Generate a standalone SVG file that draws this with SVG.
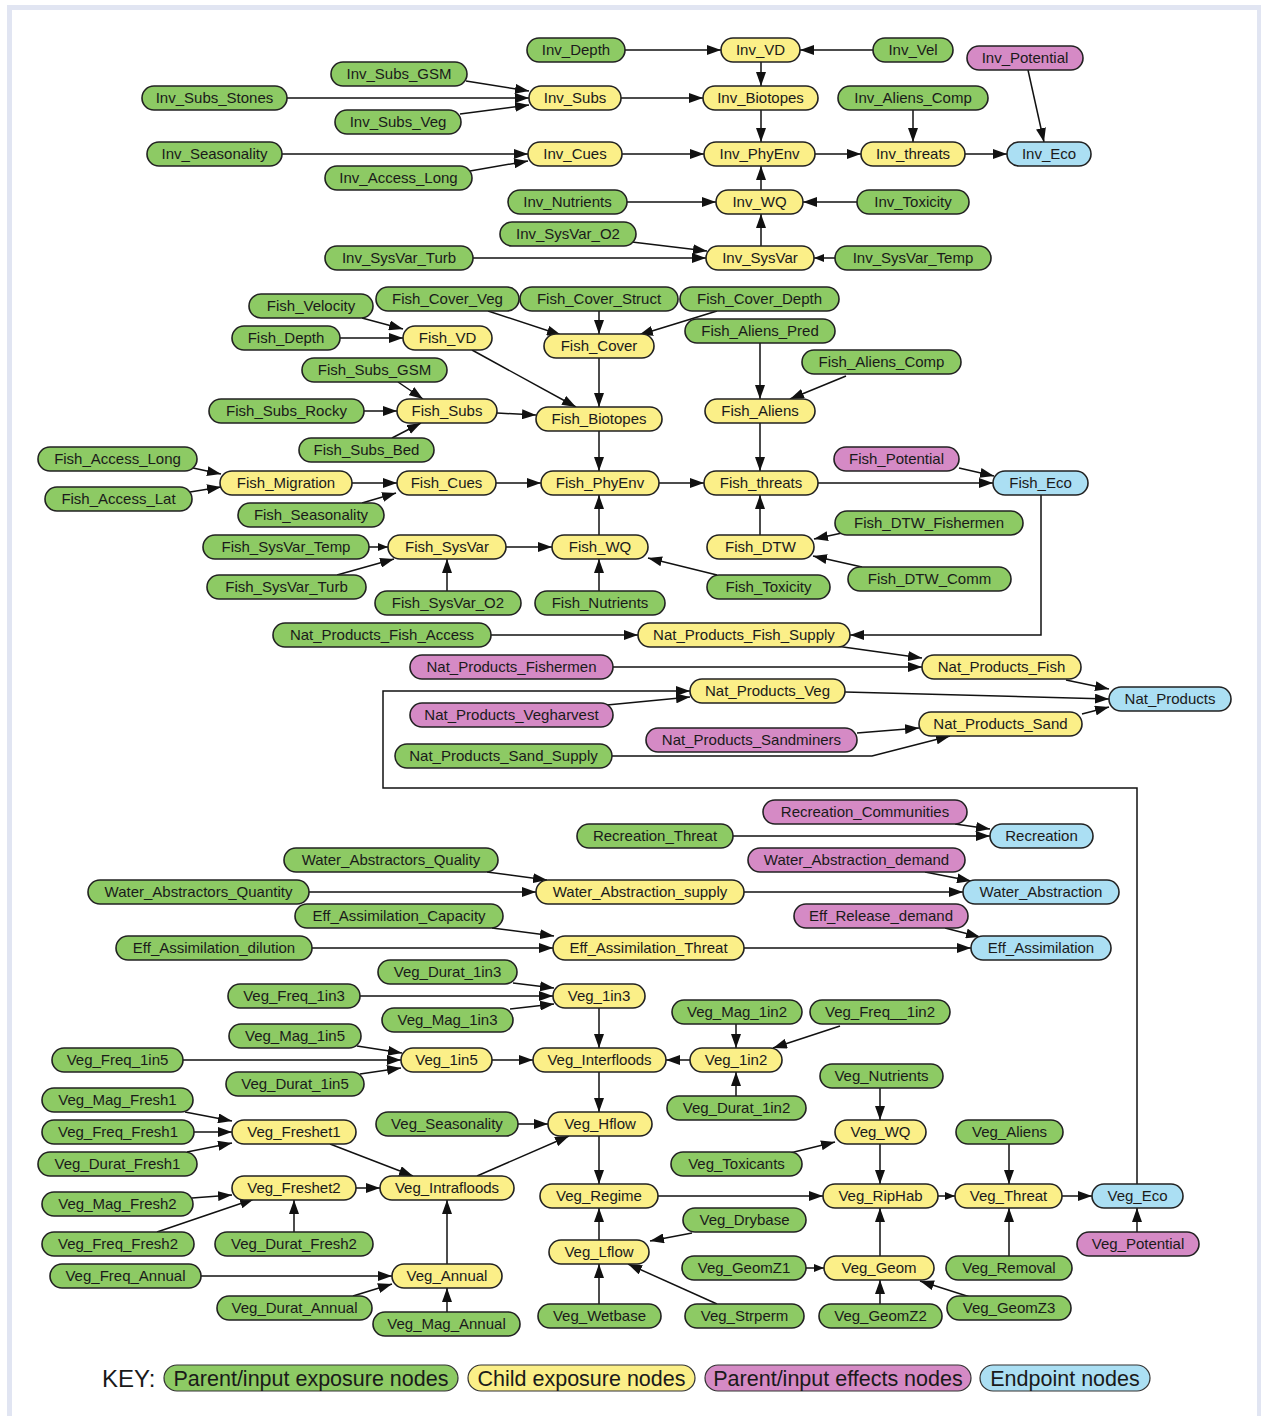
<svg xmlns="http://www.w3.org/2000/svg" width="1261" height="1416" viewBox="0 0 1261 1416">
<style>
.n rect{stroke:#222;stroke-width:1.6}
.g{fill:#8dca64}.y{fill:#fbef88}.p{fill:#d58ac5}.b{fill:#abdff3}
text{font-family:"Liberation Sans",Arial,sans-serif;font-size:15px;fill:#1a1a1a;text-anchor:middle}
.e line,.e polyline{stroke:#111;stroke-width:1.5;fill:none;marker-end:url(#a)}
.e .s{marker-end:url(#s)}
.k rect{stroke:#333;stroke-width:1.2}
.k text{font-size:21.5px}
</style>
<defs>
<marker id="a" viewBox="0 0 14 10" refX="14" refY="5" markerWidth="14" markerHeight="10" markerUnits="userSpaceOnUse" orient="auto"><path d="M0,0L14,5L0,10z" fill="#111"/></marker>
<marker id="s" viewBox="0 0 10 8" refX="10" refY="4" markerWidth="10" markerHeight="8" markerUnits="userSpaceOnUse" orient="auto"><path d="M0,0L10,4L0,8z" fill="#111"/></marker>
</defs>
<rect width="1261" height="1416" fill="#fff"/>
<rect x="9.5" y="7.5" width="1250" height="1430" fill="#fff" stroke="#e1e5f2" stroke-width="5"/>

<g class="e" id="connectors">
<line x1="625" y1="50" x2="721" y2="50"/>
<line x1="873" y1="50" x2="800" y2="50"/>
<line x1="761" y1="62" x2="761" y2="86"/>
<line x1="466" y1="81" x2="529" y2="91"/>
<line x1="287" y1="98" x2="529" y2="98"/>
<line x1="460" y1="114" x2="529" y2="105"/>
<line x1="621" y1="98" x2="703" y2="98"/>
<line x1="761" y1="110" x2="761" y2="142"/>
<line x1="913" y1="110" x2="913" y2="142"/>
<line x1="282" y1="154" x2="528" y2="154"/>
<line x1="470" y1="171" x2="528" y2="161"/>
<line x1="622" y1="154" x2="704" y2="154"/>
<line x1="815" y1="154" x2="861" y2="154"/>
<line x1="965" y1="154" x2="1007" y2="154"/>
<line x1="1028" y1="70" x2="1044" y2="142"/>
<line x1="627" y1="202" x2="716" y2="202"/>
<line x1="857" y1="202" x2="803" y2="202"/>
<line x1="761" y1="190" x2="761" y2="166"/>
<line x1="761" y1="246" x2="761" y2="214"/>
<line x1="632" y1="242" x2="707" y2="251"/>
<line x1="473" y1="258" x2="706" y2="258"/>
<line class="s" x1="835" y1="258" x2="814" y2="258"/>

<line x1="362" y1="318" x2="403" y2="329"/>
<line x1="340" y1="338" x2="403" y2="338"/>
<line x1="488" y1="311" x2="561" y2="335"/>
<line x1="599" y1="311" x2="599" y2="334"/>
<line x1="717" y1="311" x2="639" y2="335"/>
<line x1="472" y1="350" x2="576" y2="407"/>
<line x1="599" y1="358" x2="599" y2="407"/>
<line x1="760" y1="343" x2="760" y2="399"/>
<line x1="846" y1="376" x2="790" y2="399"/>
<line x1="398" y1="382" x2="423" y2="399"/>
<line x1="364" y1="411" x2="397" y2="411"/>
<line x1="392" y1="438" x2="421" y2="423"/>
<line x1="497" y1="413" x2="536" y2="415"/>
<line x1="599" y1="431" x2="599" y2="471"/>
<line x1="760" y1="423" x2="760" y2="471"/>
<line x1="193" y1="468" x2="221" y2="474"/>
<line x1="190" y1="492" x2="221" y2="487"/>
<line x1="352" y1="483" x2="397" y2="483"/>
<line x1="362" y1="503" x2="396" y2="493"/>
<line x1="496" y1="483" x2="541" y2="483"/>
<line x1="659" y1="483" x2="704" y2="483"/>
<line x1="818" y1="483" x2="993" y2="483"/>
<line x1="959" y1="468" x2="994" y2="476"/>
<line x1="760" y1="535" x2="760" y2="495"/>
<line x1="842" y1="533" x2="814" y2="539"/>
<line x1="862" y1="567" x2="813" y2="556"/>
<line class="s" x1="369" y1="547" x2="388" y2="547"/>
<line x1="337" y1="575" x2="394" y2="559"/>
<line x1="447" y1="591" x2="447" y2="559"/>
<line x1="506" y1="547" x2="552" y2="547"/>
<line x1="599" y1="535" x2="599" y2="495"/>
<line x1="599" y1="591" x2="599" y2="559"/>
<line x1="717" y1="575" x2="648" y2="558"/>

<line x1="491" y1="635" x2="638" y2="635"/>
<polyline points="1041,495 1041,635 850,635"/>
<line x1="836" y1="646" x2="922" y2="658"/>
<line x1="613" y1="667" x2="922" y2="667"/>
<line x1="1066" y1="680" x2="1109" y2="689"/>
<line x1="845" y1="692" x2="1109" y2="699"/>
<line x1="607" y1="705" x2="690" y2="697"/>
<polyline points="1137,1184 1137,788 383,788 383,691 690,691"/>
<line x1="857" y1="733" x2="919" y2="728"/>
<polyline points="612,756 872,756 950,736"/>
<line x1="1082" y1="714" x2="1109" y2="707"/>

<line x1="955" y1="824" x2="990" y2="829"/>
<line x1="733" y1="836" x2="990" y2="836"/>
<line x1="487" y1="872" x2="547" y2="880"/>
<line x1="309" y1="892" x2="536" y2="892"/>
<line x1="744" y1="892" x2="963" y2="892"/>
<line x1="925" y1="872" x2="971" y2="881"/>
<line x1="492" y1="928" x2="554" y2="936"/>
<line x1="312" y1="948" x2="553" y2="948"/>
<line x1="744" y1="948" x2="971" y2="948"/>
<line x1="945" y1="928" x2="980" y2="937"/>

<line x1="513" y1="983" x2="554" y2="988"/>
<line x1="360" y1="996" x2="553" y2="996"/>
<line x1="510" y1="1009" x2="554" y2="1004"/>
<line x1="599" y1="1008" x2="599" y2="1048"/>
<line x1="736" y1="1024" x2="736" y2="1048"/>
<line x1="840" y1="1026" x2="773" y2="1048"/>
<line x1="690" y1="1060" x2="666" y2="1060"/>
<line x1="736" y1="1096" x2="736" y2="1072"/>
<line x1="357" y1="1046" x2="402" y2="1053"/>
<line x1="183" y1="1060" x2="401" y2="1060"/>
<line x1="360" y1="1074" x2="401" y2="1068"/>
<line x1="492" y1="1060" x2="533" y2="1060"/>
<line x1="599" y1="1072" x2="599" y2="1112"/>
<line x1="185" y1="1112" x2="232" y2="1121"/>
<line x1="194" y1="1132" x2="232" y2="1132"/>
<line x1="187" y1="1152" x2="232" y2="1143"/>
<line x1="330" y1="1144" x2="413" y2="1176"/>
<line x1="192" y1="1198" x2="232" y2="1195"/>
<line x1="157" y1="1232" x2="254" y2="1199"/>
<line x1="294" y1="1232" x2="294" y2="1200"/>
<line x1="356" y1="1188" x2="380" y2="1188"/>
<line x1="477" y1="1176" x2="569" y2="1136"/>
<line x1="518" y1="1124" x2="548" y2="1124"/>
<line x1="599" y1="1136" x2="599" y2="1184"/>
<line x1="447" y1="1264" x2="447" y2="1200"/>
<line x1="201" y1="1276" x2="392" y2="1276"/>
<line x1="353" y1="1296" x2="392" y2="1284"/>
<line x1="447" y1="1312" x2="447" y2="1288"/>
<line x1="599" y1="1240" x2="599" y2="1208"/>
<line x1="599" y1="1304" x2="599" y2="1264"/>
<line x1="692" y1="1233" x2="650" y2="1241"/>
<line x1="717" y1="1304" x2="628" y2="1264"/>
<line x1="658" y1="1196" x2="823" y2="1196"/>
<line x1="880" y1="1088" x2="880" y2="1120"/>
<line x1="790" y1="1153" x2="835" y2="1142"/>
<line x1="880" y1="1144" x2="880" y2="1184"/>
<line x1="880" y1="1256" x2="880" y2="1208"/>
<line class="s" x1="806" y1="1268" x2="824" y2="1268"/>
<line x1="880" y1="1304" x2="880" y2="1280"/>
<line x1="970" y1="1297" x2="920" y2="1281"/>
<line class="s" x1="938" y1="1196" x2="955" y2="1196"/>
<line x1="1009" y1="1144" x2="1009" y2="1184"/>
<line x1="1009" y1="1256" x2="1009" y2="1208"/>
<line x1="1062" y1="1196" x2="1092" y2="1196"/>
<line x1="1137" y1="1232" x2="1137" y2="1208"/>
</g>

<g class="n">
<g id="Inv_Depth"><rect class="g" x="527" y="38" width="98" height="24" rx="12"/><text x="576" y="55">Inv_Depth</text></g>
<g id="Inv_VD"><rect class="y" x="721" y="38" width="79" height="24" rx="12"/><text x="760.5" y="55">Inv_VD</text></g>
<g id="Inv_Vel"><rect class="g" x="873" y="38" width="80" height="24" rx="12"/><text x="913" y="55">Inv_Vel</text></g>
<g id="Inv_Potential"><rect class="p" x="967" y="46" width="116" height="24" rx="12"/><text x="1025" y="63">Inv_Potential</text></g>
<g id="Inv_Subs_GSM"><rect class="g" x="331" y="62" width="136" height="24" rx="12"/><text x="399" y="79">Inv_Subs_GSM</text></g>
<g id="Inv_Subs_Stones"><rect class="g" x="142" y="86" width="145" height="24" rx="12"/><text x="214.5" y="103">Inv_Subs_Stones</text></g>
<g id="Inv_Subs_Veg"><rect class="g" x="335" y="110" width="126" height="24" rx="12"/><text x="398" y="127">Inv_Subs_Veg</text></g>
<g id="Inv_Subs"><rect class="y" x="529" y="86" width="92" height="24" rx="12"/><text x="575" y="103">Inv_Subs</text></g>
<g id="Inv_Biotopes"><rect class="y" x="703" y="86" width="115" height="24" rx="12"/><text x="760.5" y="103">Inv_Biotopes</text></g>
<g id="Inv_Aliens_Comp"><rect class="g" x="838" y="86" width="150" height="24" rx="12"/><text x="913" y="103">Inv_Aliens_Comp</text></g>
<g id="Inv_Seasonality"><rect class="g" x="147" y="142" width="135" height="24" rx="12"/><text x="214.5" y="159">Inv_Seasonality</text></g>
<g id="Inv_Access_Long"><rect class="g" x="325" y="166" width="147" height="24" rx="12"/><text x="398.5" y="183">Inv_Access_Long</text></g>
<g id="Inv_Cues"><rect class="y" x="528" y="142" width="94" height="24" rx="12"/><text x="575" y="159">Inv_Cues</text></g>
<g id="Inv_PhyEnv"><rect class="y" x="704" y="142" width="111" height="24" rx="12"/><text x="759.5" y="159">Inv_PhyEnv</text></g>
<g id="Inv_threats"><rect class="y" x="861" y="142" width="104" height="24" rx="12"/><text x="913" y="159">Inv_threats</text></g>
<g id="Inv_Eco"><rect class="b" x="1007" y="142" width="84" height="24" rx="12"/><text x="1049" y="159">Inv_Eco</text></g>
<g id="Inv_Nutrients"><rect class="g" x="508" y="190" width="119" height="24" rx="12"/><text x="567.5" y="207">Inv_Nutrients</text></g>
<g id="Inv_WQ"><rect class="y" x="716" y="190" width="87" height="24" rx="12"/><text x="759.5" y="207">Inv_WQ</text></g>
<g id="Inv_Toxicity"><rect class="g" x="857" y="190" width="112" height="24" rx="12"/><text x="913" y="207">Inv_Toxicity</text></g>
<g id="Inv_SysVar_O2"><rect class="g" x="500" y="222" width="136" height="24" rx="12"/><text x="568" y="239">Inv_SysVar_O2</text></g>
<g id="Inv_SysVar_Turb"><rect class="g" x="325" y="246" width="148" height="24" rx="12"/><text x="399" y="263">Inv_SysVar_Turb</text></g>
<g id="Inv_SysVar"><rect class="y" x="706" y="246" width="108" height="24" rx="12"/><text x="760" y="263">Inv_SysVar</text></g>
<g id="Inv_SysVar_Temp"><rect class="g" x="835" y="246" width="156" height="24" rx="12"/><text x="913" y="263">Inv_SysVar_Temp</text></g>

<g id="Fish_Cover_Veg"><rect class="g" x="376" y="287" width="143" height="24" rx="12"/><text x="447.5" y="304">Fish_Cover_Veg</text></g>
<g id="Fish_Cover_Struct"><rect class="g" x="520" y="287" width="158" height="24" rx="12"/><text x="599" y="304">Fish_Cover_Struct</text></g>
<g id="Fish_Cover_Depth"><rect class="g" x="680" y="287" width="159" height="24" rx="12"/><text x="759.5" y="304">Fish_Cover_Depth</text></g>
<g id="Fish_Velocity"><rect class="g" x="249" y="294" width="124" height="24" rx="12"/><text x="311" y="311">Fish_Velocity</text></g>
<g id="Fish_Depth"><rect class="g" x="232" y="326" width="108" height="24" rx="12"/><text x="286" y="343">Fish_Depth</text></g>
<g id="Fish_VD"><rect class="y" x="403" y="326" width="89" height="24" rx="12"/><text x="447.5" y="343">Fish_VD</text></g>
<g id="Fish_Cover"><rect class="y" x="544" y="334" width="110" height="24" rx="12"/><text x="599" y="351">Fish_Cover</text></g>
<g id="Fish_Aliens_Pred"><rect class="g" x="685" y="319" width="150" height="24" rx="12"/><text x="760" y="336">Fish_Aliens_Pred</text></g>
<g id="Fish_Aliens_Comp"><rect class="g" x="802" y="350" width="159" height="24" rx="12"/><text x="881.5" y="367">Fish_Aliens_Comp</text></g>
<g id="Fish_Subs_GSM"><rect class="g" x="302" y="358" width="145" height="24" rx="12"/><text x="374.5" y="375">Fish_Subs_GSM</text></g>
<g id="Fish_Subs_Rocky"><rect class="g" x="209" y="399" width="155" height="24" rx="12"/><text x="286.5" y="416">Fish_Subs_Rocky</text></g>
<g id="Fish_Subs"><rect class="y" x="397" y="399" width="100" height="24" rx="12"/><text x="447" y="416">Fish_Subs</text></g>
<g id="Fish_Biotopes"><rect class="y" x="536" y="407" width="126" height="24" rx="12"/><text x="599" y="424">Fish_Biotopes</text></g>
<g id="Fish_Aliens"><rect class="y" x="705" y="399" width="110" height="24" rx="12"/><text x="760" y="416">Fish_Aliens</text></g>
<g id="Fish_Subs_Bed"><rect class="g" x="299" y="438" width="135" height="24" rx="12"/><text x="366.5" y="455">Fish_Subs_Bed</text></g>
<g id="Fish_Access_Long"><rect class="g" x="38" y="447" width="159" height="24" rx="12"/><text x="117.5" y="464">Fish_Access_Long</text></g>
<g id="Fish_Access_Lat"><rect class="g" x="45" y="487" width="147" height="24" rx="12"/><text x="118.5" y="504">Fish_Access_Lat</text></g>
<g id="Fish_Migration"><rect class="y" x="220" y="471" width="132" height="24" rx="12"/><text x="286" y="488">Fish_Migration</text></g>
<g id="Fish_Cues"><rect class="y" x="397" y="471" width="99" height="24" rx="12"/><text x="446.5" y="488">Fish_Cues</text></g>
<g id="Fish_PhyEnv"><rect class="y" x="541" y="471" width="118" height="24" rx="12"/><text x="600" y="488">Fish_PhyEnv</text></g>
<g id="Fish_threats"><rect class="y" x="704" y="471" width="114" height="24" rx="12"/><text x="761" y="488">Fish_threats</text></g>
<g id="Fish_Potential"><rect class="p" x="834" y="447" width="125" height="24" rx="12"/><text x="896.5" y="464">Fish_Potential</text></g>
<g id="Fish_Eco"><rect class="b" x="993" y="471" width="95" height="24" rx="12"/><text x="1040.5" y="488">Fish_Eco</text></g>
<g id="Fish_Seasonality"><rect class="g" x="238" y="503" width="146" height="24" rx="12"/><text x="311" y="520">Fish_Seasonality</text></g>
<g id="Fish_SysVar_Temp"><rect class="g" x="203" y="535" width="166" height="24" rx="12"/><text x="286" y="552">Fish_SysVar_Temp</text></g>
<g id="Fish_SysVar"><rect class="y" x="388" y="535" width="118" height="24" rx="12"/><text x="447" y="552">Fish_SysVar</text></g>
<g id="Fish_WQ"><rect class="y" x="552" y="535" width="96" height="24" rx="12"/><text x="600" y="552">Fish_WQ</text></g>
<g id="Fish_DTW"><rect class="y" x="707" y="535" width="107" height="24" rx="12"/><text x="760.5" y="552">Fish_DTW</text></g>
<g id="Fish_DTW_Fishermen"><rect class="g" x="835" y="511" width="188" height="24" rx="12"/><text x="929" y="528">Fish_DTW_Fishermen</text></g>
<g id="Fish_DTW_Comm"><rect class="g" x="848" y="567" width="163" height="24" rx="12"/><text x="929.5" y="584">Fish_DTW_Comm</text></g>
<g id="Fish_SysVar_Turb"><rect class="g" x="207" y="575" width="159" height="24" rx="12"/><text x="286.5" y="592">Fish_SysVar_Turb</text></g>
<g id="Fish_SysVar_O2"><rect class="g" x="375" y="591" width="146" height="24" rx="12"/><text x="448" y="608">Fish_SysVar_O2</text></g>
<g id="Fish_Nutrients"><rect class="g" x="535" y="591" width="130" height="24" rx="12"/><text x="600" y="608">Fish_Nutrients</text></g>
<g id="Fish_Toxicity"><rect class="g" x="707" y="575" width="123" height="24" rx="12"/><text x="768.5" y="592">Fish_Toxicity</text></g>

<g id="Nat_Products_Fish_Access"><rect class="g" x="273" y="623" width="218" height="24" rx="12"/><text x="382" y="640">Nat_Products_Fish_Access</text></g>
<g id="Nat_Products_Fish_Supply"><rect class="y" x="638" y="623" width="212" height="24" rx="12"/><text x="744" y="640">Nat_Products_Fish_Supply</text></g>
<g id="Nat_Products_Fishermen"><rect class="p" x="410" y="655" width="203" height="24" rx="12"/><text x="511.5" y="672">Nat_Products_Fishermen</text></g>
<g id="Nat_Products_Fish"><rect class="y" x="922" y="655" width="159" height="24" rx="12"/><text x="1001.5" y="672">Nat_Products_Fish</text></g>
<g id="Nat_Products_Veg"><rect class="y" x="690" y="679" width="155" height="24" rx="12"/><text x="767.5" y="696">Nat_Products_Veg</text></g>
<g id="Nat_Products"><rect class="b" x="1109" y="687" width="122" height="24" rx="12"/><text x="1170" y="704">Nat_Products</text></g>
<g id="Nat_Products_Vegharvest"><rect class="p" x="410" y="703" width="203" height="24" rx="12"/><text x="511.5" y="720">Nat_Products_Vegharvest</text></g>
<g id="Nat_Products_Sandminers"><rect class="p" x="646" y="728" width="211" height="24" rx="12"/><text x="751.5" y="745">Nat_Products_Sandminers</text></g>
<g id="Nat_Products_Sand"><rect class="y" x="919" y="712" width="163" height="24" rx="12"/><text x="1000.5" y="729">Nat_Products_Sand</text></g>
<g id="Nat_Products_Sand_Supply"><rect class="g" x="395" y="744" width="217" height="24" rx="12"/><text x="503.5" y="761">Nat_Products_Sand_Supply</text></g>

<g id="Recreation_Communities"><rect class="p" x="763" y="800" width="204" height="24" rx="12"/><text x="865" y="817">Recreation_Communities</text></g>
<g id="Recreation_Threat"><rect class="g" x="577" y="824" width="156" height="24" rx="12"/><text x="655" y="841">Recreation_Threat</text></g>
<g id="Recreation"><rect class="b" x="990" y="824" width="103" height="24" rx="12"/><text x="1041.5" y="841">Recreation</text></g>
<g id="Water_Abstractors_Quality"><rect class="g" x="284" y="848" width="214" height="24" rx="12"/><text x="391" y="865">Water_Abstractors_Quality</text></g>
<g id="Water_Abstraction_demand"><rect class="p" x="748" y="848" width="217" height="24" rx="12"/><text x="856.5" y="865">Water_Abstraction_demand</text></g>
<g id="Water_Abstractors_Quantity"><rect class="g" x="88" y="880" width="221" height="24" rx="12"/><text x="198.5" y="897">Water_Abstractors_Quantity</text></g>
<g id="Water_Abstraction_supply"><rect class="y" x="536" y="880" width="208" height="24" rx="12"/><text x="640" y="897">Water_Abstraction_supply</text></g>
<g id="Water_Abstraction"><rect class="b" x="963" y="880" width="156" height="24" rx="12"/><text x="1041" y="897">Water_Abstraction</text></g>
<g id="Eff_Assimilation_Capacity"><rect class="g" x="295" y="904" width="208" height="24" rx="12"/><text x="399" y="921">Eff_Assimilation_Capacity</text></g>
<g id="Eff_Release_demand"><rect class="p" x="794" y="904" width="174" height="24" rx="12"/><text x="881" y="921">Eff_Release_demand</text></g>
<g id="Eff_Assimilation_dilution"><rect class="g" x="116" y="936" width="196" height="24" rx="12"/><text x="214" y="953">Eff_Assimilation_dilution</text></g>
<g id="Eff_Assimilation_Threat"><rect class="y" x="553" y="936" width="191" height="24" rx="12"/><text x="648.5" y="953">Eff_Assimilation_Threat</text></g>
<g id="Eff_Assimilation"><rect class="b" x="971" y="936" width="140" height="24" rx="12"/><text x="1041" y="953">Eff_Assimilation</text></g>

<g id="Veg_Durat_1in3"><rect class="g" x="378" y="960" width="139" height="24" rx="12"/><text x="447.5" y="977">Veg_Durat_1in3</text></g>
<g id="Veg_Freq_1in3"><rect class="g" x="228" y="984" width="132" height="24" rx="12"/><text x="294" y="1001">Veg_Freq_1in3</text></g>
<g id="Veg_1in3"><rect class="y" x="553" y="984" width="92" height="24" rx="12"/><text x="599" y="1001">Veg_1in3</text></g>
<g id="Veg_Mag_1in3"><rect class="g" x="382" y="1008" width="131" height="24" rx="12"/><text x="447.5" y="1025">Veg_Mag_1in3</text></g>
<g id="Veg_Mag_1in2"><rect class="g" x="672" y="1000" width="130" height="24" rx="12"/><text x="737" y="1017">Veg_Mag_1in2</text></g>
<g id="Veg_Freq__1in2"><rect class="g" x="810" y="1000" width="140" height="24" rx="12"/><text x="880" y="1017">Veg_Freq__1in2</text></g>
<g id="Veg_Mag_1in5"><rect class="g" x="229" y="1024" width="132" height="24" rx="12"/><text x="295" y="1041">Veg_Mag_1in5</text></g>
<g id="Veg_Freq_1in5"><rect class="g" x="52" y="1048" width="131" height="24" rx="12"/><text x="117.5" y="1065">Veg_Freq_1in5</text></g>
<g id="Veg_1in5"><rect class="y" x="401" y="1048" width="91" height="24" rx="12"/><text x="446.5" y="1065">Veg_1in5</text></g>
<g id="Veg_Interfloods"><rect class="y" x="533" y="1048" width="133" height="24" rx="12"/><text x="599.5" y="1065">Veg_Interfloods</text></g>
<g id="Veg_1in2"><rect class="y" x="690" y="1048" width="92" height="24" rx="12"/><text x="736" y="1065">Veg_1in2</text></g>
<g id="Veg_Durat_1in5"><rect class="g" x="226" y="1072" width="138" height="24" rx="12"/><text x="295" y="1089">Veg_Durat_1in5</text></g>
<g id="Veg_Nutrients"><rect class="g" x="820" y="1064" width="123" height="24" rx="12"/><text x="881.5" y="1081">Veg_Nutrients</text></g>
<g id="Veg_Mag_Fresh1"><rect class="g" x="42" y="1088" width="151" height="24" rx="12"/><text x="117.5" y="1105">Veg_Mag_Fresh1</text></g>
<g id="Veg_Durat_1in2"><rect class="g" x="667" y="1096" width="139" height="24" rx="12"/><text x="736.5" y="1113">Veg_Durat_1in2</text></g>
<g id="Veg_Freq_Fresh1"><rect class="g" x="42" y="1120" width="152" height="24" rx="12"/><text x="118" y="1137">Veg_Freq_Fresh1</text></g>
<g id="Veg_Freshet1"><rect class="y" x="232" y="1120" width="124" height="24" rx="12"/><text x="294" y="1137">Veg_Freshet1</text></g>
<g id="Veg_Seasonality"><rect class="g" x="376" y="1112" width="142" height="24" rx="12"/><text x="447" y="1129">Veg_Seasonality</text></g>
<g id="Veg_Hflow"><rect class="y" x="548" y="1112" width="104" height="24" rx="12"/><text x="600" y="1129">Veg_Hflow</text></g>
<g id="Veg_WQ"><rect class="y" x="835" y="1120" width="91" height="24" rx="12"/><text x="880.5" y="1137">Veg_WQ</text></g>
<g id="Veg_Aliens"><rect class="g" x="956" y="1120" width="107" height="24" rx="12"/><text x="1009.5" y="1137">Veg_Aliens</text></g>
<g id="Veg_Durat_Fresh1"><rect class="g" x="38" y="1152" width="159" height="24" rx="12"/><text x="117.5" y="1169">Veg_Durat_Fresh1</text></g>
<g id="Veg_Toxicants"><rect class="g" x="671" y="1152" width="131" height="24" rx="12"/><text x="736.5" y="1169">Veg_Toxicants</text></g>
<g id="Veg_Mag_Fresh2"><rect class="g" x="42" y="1192" width="151" height="24" rx="12"/><text x="117.5" y="1209">Veg_Mag_Fresh2</text></g>
<g id="Veg_Freshet2"><rect class="y" x="232" y="1176" width="124" height="24" rx="12"/><text x="294" y="1193">Veg_Freshet2</text></g>
<g id="Veg_Intrafloods"><rect class="y" x="380" y="1176" width="134" height="24" rx="12"/><text x="447" y="1193">Veg_Intrafloods</text></g>
<g id="Veg_Regime"><rect class="y" x="540" y="1184" width="118" height="24" rx="12"/><text x="599" y="1201">Veg_Regime</text></g>
<g id="Veg_RipHab"><rect class="y" x="823" y="1184" width="115" height="24" rx="12"/><text x="880.5" y="1201">Veg_RipHab</text></g>
<g id="Veg_Threat"><rect class="y" x="955" y="1184" width="107" height="24" rx="12"/><text x="1008.5" y="1201">Veg_Threat</text></g>
<g id="Veg_Eco"><rect class="b" x="1092" y="1184" width="91" height="24" rx="12"/><text x="1137.5" y="1201">Veg_Eco</text></g>
<g id="Veg_Drybase"><rect class="g" x="683" y="1208" width="123" height="24" rx="12"/><text x="744.5" y="1225">Veg_Drybase</text></g>
<g id="Veg_Freq_Fresh2"><rect class="g" x="42" y="1232" width="152" height="24" rx="12"/><text x="118" y="1249">Veg_Freq_Fresh2</text></g>
<g id="Veg_Durat_Fresh2"><rect class="g" x="215" y="1232" width="158" height="24" rx="12"/><text x="294" y="1249">Veg_Durat_Fresh2</text></g>
<g id="Veg_Lflow"><rect class="y" x="549" y="1240" width="100" height="24" rx="12"/><text x="599" y="1257">Veg_Lflow</text></g>
<g id="Veg_Potential"><rect class="p" x="1077" y="1232" width="122" height="24" rx="12"/><text x="1138" y="1249">Veg_Potential</text></g>
<g id="Veg_Freq_Annual"><rect class="g" x="50" y="1264" width="151" height="24" rx="12"/><text x="125.5" y="1281">Veg_Freq_Annual</text></g>
<g id="Veg_Annual"><rect class="y" x="392" y="1264" width="110" height="24" rx="12"/><text x="447" y="1281">Veg_Annual</text></g>
<g id="Veg_GeomZ1"><rect class="g" x="682" y="1256" width="124" height="24" rx="12"/><text x="744" y="1273">Veg_GeomZ1</text></g>
<g id="Veg_Geom"><rect class="y" x="824" y="1256" width="110" height="24" rx="12"/><text x="879" y="1273">Veg_Geom</text></g>
<g id="Veg_Removal"><rect class="g" x="946" y="1256" width="126" height="24" rx="12"/><text x="1009" y="1273">Veg_Removal</text></g>
<g id="Veg_Durat_Annual"><rect class="g" x="217" y="1296" width="155" height="24" rx="12"/><text x="294.5" y="1313">Veg_Durat_Annual</text></g>
<g id="Veg_Mag_Annual"><rect class="g" x="373" y="1312" width="147" height="24" rx="12"/><text x="446.5" y="1329">Veg_Mag_Annual</text></g>
<g id="Veg_Wetbase"><rect class="g" x="538" y="1304" width="123" height="24" rx="12"/><text x="599.5" y="1321">Veg_Wetbase</text></g>
<g id="Veg_Strperm"><rect class="g" x="685" y="1304" width="119" height="24" rx="12"/><text x="744.5" y="1321">Veg_Strperm</text></g>
<g id="Veg_GeomZ2"><rect class="g" x="819" y="1304" width="123" height="24" rx="12"/><text x="880.5" y="1321">Veg_GeomZ2</text></g>
<g id="Veg_GeomZ3"><rect class="g" x="947" y="1296" width="124" height="24" rx="12"/><text x="1009" y="1313">Veg_GeomZ3</text></g>
</g>

<g class="k" id="key">
<text x="102" y="1387" style="font-size:24px;text-anchor:start">KEY:</text>
<g id="key_green"><rect class="g" x="164" y="1365" width="294" height="26" rx="13"/><text x="311" y="1386">Parent/input exposure nodes</text></g>
<g id="key_yellow"><rect class="y" x="468" y="1365" width="227" height="26" rx="13"/><text x="581.5" y="1386">Child exposure nodes</text></g>
<g id="key_pink"><rect class="p" x="705" y="1365" width="266" height="26" rx="13"/><text x="838" y="1386">Parent/input effects nodes</text></g>
<g id="key_blue"><rect class="b" x="980" y="1365" width="170" height="26" rx="13"/><text x="1065" y="1386">Endpoint nodes</text></g>
</g>
</svg>
